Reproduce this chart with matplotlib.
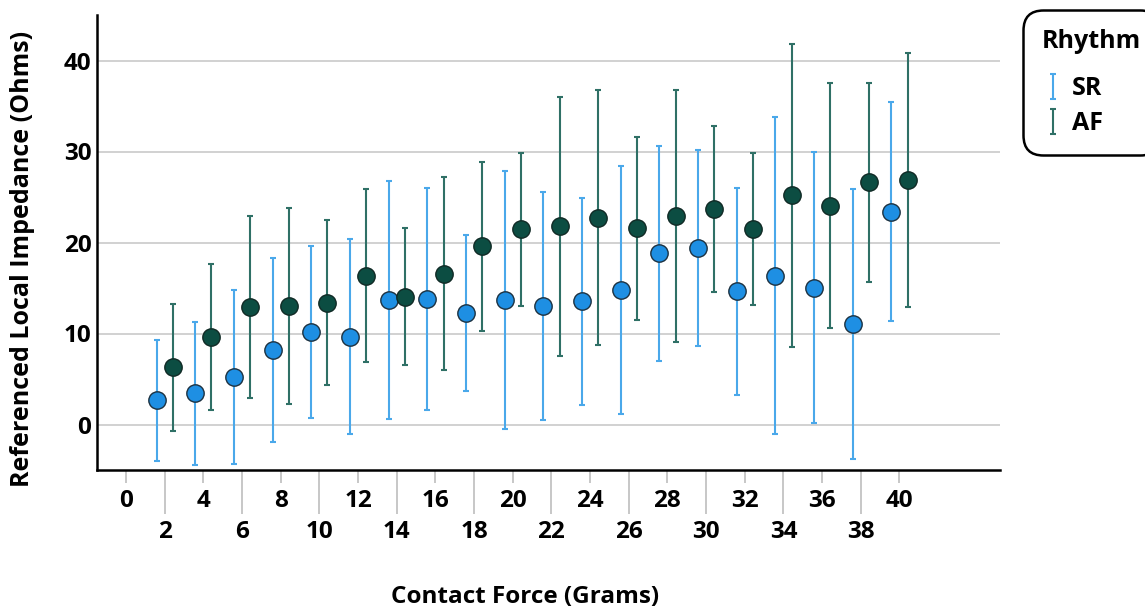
import matplotlib
matplotlib.use("Agg")
import matplotlib.pyplot as plt
import numpy as np

plt.rcParams['font.family'] = ['Open Sans', 'DejaVu Sans']
plt.rcParams['font.weight'] = 'bold'

# contact force bins (grams)
force = [2, 4, 6, 8, 10, 12, 14, 16, 18, 20, 22, 24, 26, 28, 30, 32, 34, 36, 38, 40]

# sinus rhythm: mean impedance and error half-width
sr_mean = [2.67, 3.44, 5.23, 8.20, 10.17, 9.66, 13.68, 13.83, 12.29, 13.68,
           13.06, 13.54, 14.78, 18.81, 19.43, 14.64, 16.36, 15.04, 11.09, 23.38]
sr_err = [6.64, 7.85, 9.57, 10.08, 9.50, 10.74, 13.03, 12.19, 8.56, 14.16,
          12.53, 11.40, 13.65, 11.84, 10.78, 11.40, 17.42, 14.93, 14.84, 12.02]

# atrial fibrillation
af_mean = [6.29, 9.62, 12.88, 13.03, 13.39, 16.36, 14.05, 16.58, 19.58, 21.44,
           21.77, 22.72, 21.55, 22.94, 23.67, 21.51, 25.21, 24.04, 26.60, 26.82]
af_err = [6.95, 7.98, 9.99, 10.81, 9.06, 9.50, 7.52, 10.59, 9.29, 8.38,
          14.22, 14.00, 10.03, 13.83, 9.15, 8.36, 16.65, 13.49, 10.96, 13.96]

xticks_top = [0, 4, 8, 12, 16, 20, 24, 28, 32, 36, 40]
xticks_bottom = [2, 6, 10, 14, 18, 22, 26, 30, 34, 38]
yticks = [0, 10, 20, 30, 40]

sr_line = '#4aa8ea'
sr_fill = '#1e8fe3'
af_line = '#2f7066'
af_fill = '#0c4d42'

fig = plt.figure(figsize=(11.45, 6.1), dpi=100)
ax = fig.add_axes([97 / 1145, 1 - 470 / 610, 903 / 1145, 455 / 610])

x = np.array(force, dtype=float)
dodge = 0.42

sr = ax.errorbar(x - dodge, sr_mean, yerr=sr_err, fmt='none', ecolor=sr_line,
                 elinewidth=1.5, capsize=2, capthick=1.5, zorder=3, label='SR')
af = ax.errorbar(x + dodge, af_mean, yerr=af_err, fmt='none', ecolor=af_line,
                 elinewidth=1.5, capsize=2, capthick=1.5, zorder=3, label='AF')
ax.plot(x - dodge, sr_mean, 'o', ms=12.5, mfc=sr_fill, mec='#1c3140', mew=1, zorder=4)
ax.plot(x + dodge, af_mean, 'o', ms=12.5, mfc=af_fill, mec='#102a25', mew=1, zorder=4)

ax.set_xlim(-1.5, 45.2)
ax.set_ylim(-5, 45)
ax.set_yticks(yticks)
ax.yaxis.grid(True, color='#c9c9c9', lw=1.2)
ax.set_axisbelow(True)

ax.set_xticks(xticks_top)
ax.set_xticks(xticks_bottom, minor=True)
ax.set_xticklabels([str(v) for v in xticks_top])
ax.set_xticklabels([str(v) for v in xticks_bottom], minor=True)
ax.tick_params(axis='x', which='major', length=9.5, width=1.2, color='#bdbdbd',
               pad=4, labelsize=17.5)
ax.tick_params(axis='x', which='minor', length=32, width=1.2, color='#bdbdbd',
               pad=4, labelsize=17.5)
ax.tick_params(axis='y', length=0, pad=4, labelsize=17.5)

for side in ['top', 'right']:
    ax.spines[side].set_visible(False)
for side in ['left', 'bottom']:
    ax.spines[side].set_linewidth(1.8)
    ax.spines[side].set_color('black')

ax.set_xlabel('Contact Force (Grams)', fontsize=17.5, fontweight='bold', va='center')
ax.xaxis.set_label_coords(0.474, -0.279)
ax.set_ylabel('Referenced Local Impedance (Ohms)', fontsize=18, fontweight='bold', va='center')
ax.yaxis.set_label_coords(-0.083, 0.464)

leg = ax.legend(handles=[sr, af], title='Rhythm', loc='upper left',
                bbox_to_anchor=(1023 / 1145, 1 - 10 / 610), bbox_transform=fig.transFigure,
                borderaxespad=0,
                prop={'size': 18, 'weight': 'bold'}, title_fontproperties={'size': 18, 'weight': 'bold'},
                frameon=True, fancybox=True, edgecolor='black', framealpha=1,
                handlelength=0.9, handletextpad=0.3, borderpad=0.75, labelspacing=0.42)
leg.get_frame().set_linewidth(1.8)
leg.get_frame().set_boxstyle('round,pad=0,rounding_size=0.8')
leg._legend_box.align = 'left'
# extra room between the title and the entries
leg._legend_box.sep = 16

fig.savefig('out.png', dpi=100)
